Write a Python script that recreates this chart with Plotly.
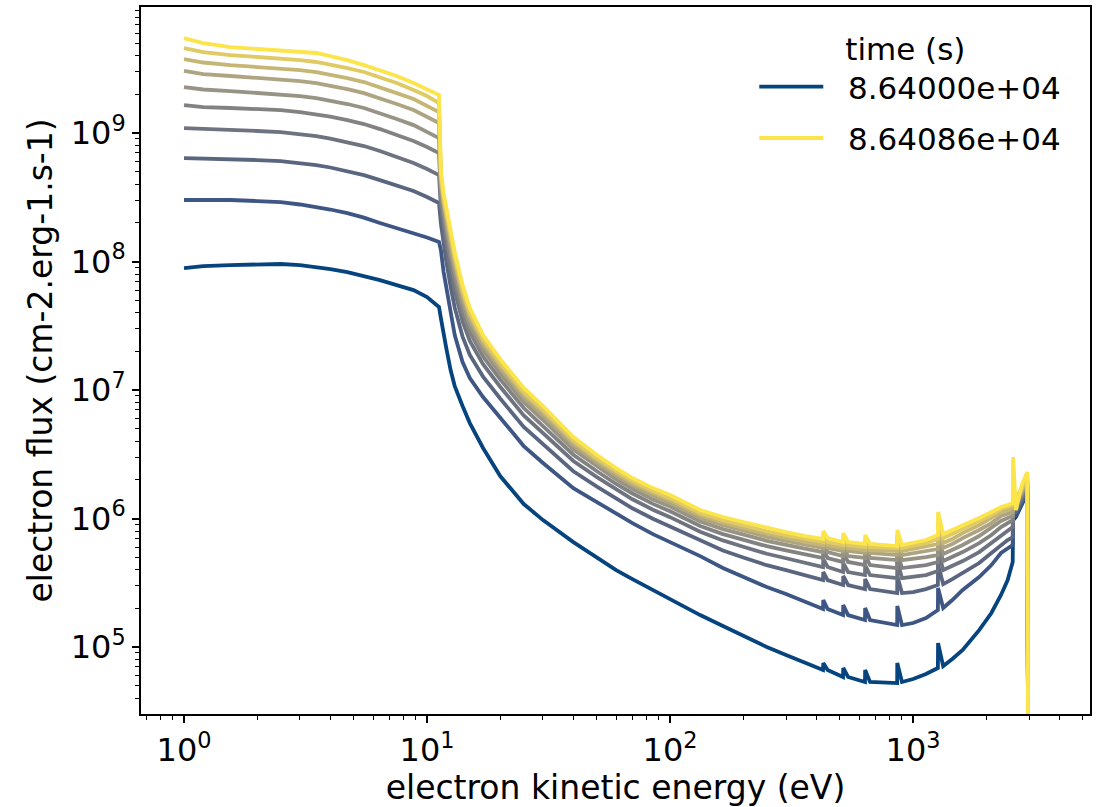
import plotly.graph_objects as go

# electron kinetic energy grid (eV)
energy_ev = [1.0, 1.2, 1.55, 2.0, 2.5, 3.0, 3.5, 4.0, 4.7, 5.5, 6.4, 7.5, 8.8, 10.0, 11.2,
             11.4, 11.7, 12, 12.5, 13, 14, 15, 17, 20, 25, 30, 40, 50, 60, 70, 85, 100, 133, 165, 200, 250, 300, 360,
             426, 427, 445, 515, 516, 540, 634, 635, 665, 860, 861, 900, 1000,
             1130, 1265, 1267, 1330, 1450, 1600, 1870, 2100, 2300, 2450, 2570, 2580, 2650, 2800, 2950, 3000]

# log10 of electron flux (cm-2.erg-1.s-1), earliest time first (t0) to latest (t9)
log_flux_t0 = [7.949, 7.965, 7.973, 7.977, 7.981, 7.973, 7.957, 7.942, 7.918, 7.887, 7.856, 7.817, 7.778, 7.724, 7.646,
               7.560, 7.428, 7.327, 7.156, 7.031, 6.876, 6.743, 6.549, 6.331, 6.113, 5.988, 5.817, 5.700, 5.599, 5.529, 5.444, 5.366, 5.249, 5.164, 5.086, 5.000, 4.938, 4.876,
               4.821, 4.876, 4.821, 4.767, 4.837, 4.767, 4.728, 4.821, 4.728, 4.720, 4.876, 4.728, 4.751,
               4.790, 4.837, 5.031, 4.852, 4.907, 4.977, 5.132, 5.265, 5.405, 5.521, 5.662, 5.988, 6.012, 6.105, 6.199, 2.0]
log_flux_t1 = [8.479, 8.479, 8.479, 8.471, 8.463, 8.444, 8.424, 8.405, 8.377, 8.342, 8.300, 8.261, 8.222, 8.187, 8.152,
               8.090, 7.918, 7.794, 7.599, 7.428, 7.218, 7.093, 6.946, 6.782, 6.564, 6.432, 6.237, 6.128, 6.035, 5.965, 5.879, 5.817, 5.708, 5.615, 5.545, 5.467, 5.413, 5.350,
               5.296, 5.366, 5.296, 5.249, 5.327, 5.249, 5.210, 5.304, 5.210, 5.171, 5.319, 5.171, 5.187,
               5.226, 5.288, 5.459, 5.304, 5.366, 5.444, 5.545, 5.638, 5.732, 5.771, 5.794, 6.012, 6.027, 6.113, 6.230, 2.0]
log_flux_t2 = [8.805, 8.802, 8.798, 8.790, 8.782, 8.767, 8.751, 8.732, 8.704, 8.673, 8.634, 8.591, 8.549, 8.502, 8.455,
               8.295, 8.121, 8.002, 7.807, 7.641, 7.416, 7.273, 7.105, 6.934, 6.713, 6.578, 6.368, 6.249, 6.153, 6.080, 5.998, 5.938, 5.827, 5.751, 5.697, 5.637, 5.599, 5.557,
               5.521, 5.584, 5.521, 5.483, 5.553, 5.483, 5.451, 5.529, 5.451, 5.420, 5.553, 5.420, 5.428,
               5.451, 5.483, 5.638, 5.490, 5.529, 5.576, 5.654, 5.732, 5.794, 5.833, 5.856, 6.035, 6.051, 6.136, 6.245, 2.0]
log_flux_t3 = [9.039, 9.031, 9.023, 9.016, 9.008, 8.992, 8.977, 8.957, 8.930, 8.899, 8.860, 8.813, 8.767, 8.720, 8.673,
               8.420, 8.244, 8.128, 7.933, 7.770, 7.535, 7.382, 7.202, 7.026, 6.803, 6.667, 6.448, 6.322, 6.225, 6.150, 6.069, 6.011, 5.898, 5.830, 5.781, 5.726, 5.691, 5.653,
               5.623, 5.685, 5.623, 5.584, 5.654, 5.584, 5.560, 5.638, 5.560, 5.537, 5.669, 5.537, 5.545,
               5.560, 5.592, 5.747, 5.599, 5.630, 5.669, 5.739, 5.809, 5.872, 5.911, 5.934, 6.058, 6.074, 6.160, 6.261, 2.0]
log_flux_t4 = [9.218, 9.202, 9.195, 9.187, 9.179, 9.163, 9.148, 9.128, 9.101, 9.070, 9.031, 8.984, 8.938, 8.891, 8.844,
               8.497, 8.321, 8.207, 8.012, 7.851, 7.610, 7.450, 7.261, 7.083, 6.860, 6.722, 6.497, 6.368, 6.269, 6.195, 6.114, 6.057, 5.942, 5.879, 5.834, 5.785, 5.753, 5.719,
               5.693, 5.755, 5.693, 5.662, 5.732, 5.662, 5.638, 5.716, 5.638, 5.615, 5.739, 5.615, 5.623,
               5.638, 5.662, 5.809, 5.669, 5.700, 5.739, 5.809, 5.872, 5.934, 5.965, 5.988, 6.082, 6.097, 6.175, 6.276, 2.0]
log_flux_t5 = [9.358, 9.339, 9.327, 9.311, 9.304, 9.288, 9.272, 9.253, 9.226, 9.195, 9.156, 9.109, 9.062, 9.012, 8.961,
               8.560, 8.382, 8.270, 8.076, 7.916, 7.670, 7.504, 7.310, 7.128, 6.905, 6.767, 6.537, 6.405, 6.305, 6.230, 6.149, 6.093, 5.978, 5.918, 5.876, 5.827, 5.796, 5.764,
               5.739, 5.794, 5.739, 5.708, 5.771, 5.708, 5.693, 5.763, 5.693, 5.677, 5.794, 5.677, 5.685,
               5.700, 5.716, 5.856, 5.724, 5.755, 5.794, 5.864, 5.926, 5.981, 6.004, 6.020, 6.097, 6.113, 6.191, 6.292, 2.0]
log_flux_t6 = [9.483, 9.459, 9.444, 9.428, 9.420, 9.405, 9.389, 9.370, 9.342, 9.311, 9.272, 9.226, 9.179, 9.128, 9.078,
               8.609, 8.432, 8.320, 8.125, 7.967, 7.718, 7.548, 7.349, 7.166, 6.941, 6.802, 6.569, 6.434, 6.334, 6.258, 6.178, 6.122, 6.007, 5.949, 5.907, 5.858, 5.827, 5.795,
               5.771, 5.825, 5.771, 5.747, 5.809, 5.747, 5.732, 5.794, 5.732, 5.716, 5.825, 5.716, 5.732,
               5.747, 5.763, 5.903, 5.771, 5.802, 5.848, 5.911, 5.965, 6.020, 6.035, 6.051, 6.113, 6.128, 6.206, 6.307, 2.0]
log_flux_t7 = [9.576, 9.549, 9.529, 9.514, 9.506, 9.490, 9.475, 9.455, 9.428, 9.397, 9.358, 9.311, 9.265, 9.214, 9.163,
               8.644, 8.465, 8.355, 8.160, 8.003, 7.751, 7.578, 7.375, 7.191, 6.966, 6.827, 6.591, 6.454, 6.353, 6.276, 6.198, 6.142, 6.027, 5.970, 5.928, 5.881, 5.850, 5.818,
               5.794, 5.848, 5.794, 5.771, 5.833, 5.771, 5.755, 5.817, 5.755, 5.747, 5.848, 5.747, 5.763,
               5.778, 5.802, 5.942, 5.809, 5.841, 5.887, 5.949, 6.004, 6.051, 6.066, 6.082, 6.128, 6.144, 6.222, 6.323, 2.0]
log_flux_t8 = [9.661, 9.630, 9.607, 9.591, 9.584, 9.568, 9.553, 9.533, 9.506, 9.475, 9.436, 9.389, 9.335, 9.288, 9.233,
               8.672, 8.493, 8.383, 8.188, 8.032, 7.778, 7.602, 7.397, 7.212, 6.986, 6.847, 6.609, 6.470, 6.370, 6.293, 6.214, 6.159, 6.043, 5.988, 5.948, 5.901, 5.871, 5.840,
               5.817, 5.872, 5.817, 5.794, 5.856, 5.794, 5.778, 5.841, 5.778, 5.771, 5.872, 5.771, 5.786,
               5.809, 5.841, 5.973, 5.848, 5.879, 5.918, 5.981, 6.027, 6.074, 6.090, 6.105, 6.144, 6.160, 6.237, 6.339, 2.0]
log_flux_t9 = [9.739, 9.700, 9.669, 9.654, 9.646, 9.630, 9.623, 9.599, 9.568, 9.529, 9.490, 9.444, 9.389, 9.342, 9.296,
               8.712, 8.533, 8.424, 8.230, 8.074, 7.817, 7.638, 7.428, 7.241, 7.016, 6.876, 6.634, 6.494, 6.393, 6.315, 6.237, 6.183, 6.066, 6.012, 5.973, 5.926, 5.895, 5.864,
               5.841, 5.903, 5.848, 5.817, 5.887, 5.817, 5.802, 5.872, 5.802, 5.786, 5.911, 5.794, 5.809,
               5.833, 5.872, 6.051, 5.879, 5.911, 5.942, 6.004, 6.051, 6.090, 6.105, 6.121, 6.479, 6.066, 6.261, 6.362, 2.0]

series = [log_flux_t0, log_flux_t1, log_flux_t2, log_flux_t3, log_flux_t4,
          log_flux_t5, log_flux_t6, log_flux_t7, log_flux_t8, log_flux_t9]
for s in series:
    assert len(s) == len(energy_ev), len(s)

line_colors = ["#06447f", "#3d5684", "#5a6680", "#6e7380", "#828283",
               "#979385", "#aea482", "#c5b676", "#dfca64", "#fbe54a"]

legend_labels = {0: "8.64000e+04", 9: "8.64086e+04"}

x_tickvals = [1, 10, 100, 1000]
x_ticktext = ["10<sup>0</sup>", "10<sup>1</sup>", "10<sup>2</sup>", "10<sup>3</sup>"]
y_tickvals = [1e5, 1e6, 1e7, 1e8, 1e9]
y_ticktext = ["10<sup>5</sup>", "10<sup>6</sup>", "10<sup>7</sup>", "10<sup>8</sup>", "10<sup>9</sup>"]

x_minor = [m * 10 ** d for d in range(-1, 4) for m in range(2, 10)]
y_minor = [m * 10 ** d for d in range(4, 10) for m in range(2, 10)]

FONT = "DejaVu Sans"
NBSP = "\u00a0"

fig = go.Figure()
for i, logs in enumerate(series):
    fig.add_trace(go.Scatter(
        x=energy_ev,
        y=[10 ** v for v in logs],
        mode="lines",
        line=dict(color=line_colors[i], width=3.8),
        name=NBSP * 2 + legend_labels.get(i, ""),
        legendgroup=f"g{i}",
        showlegend=i in legend_labels,
        hoverinfo="skip",
    ))

axis_common = dict(
    type="log",
    showgrid=False,
    zeroline=False,
    showline=True,
    mirror=True,
    linecolor="black",
    linewidth=1.8,
    ticks="outside",
    ticklen=7,
    tickwidth=1.6,
    tickcolor="black",
    tickfont=dict(family=FONT, size=32, color="black"),
)

fig.update_xaxes(
    **axis_common,
    range=[-0.177, 3.728],
    tickmode="array",
    tickvals=x_tickvals,
    ticktext=x_ticktext,
    minor=dict(tickmode="array", tickvals=x_minor, ticks="outside", ticklen=4,
               tickwidth=1.2, tickcolor="black", showgrid=False),
    title=dict(text="electron kinetic energy (eV)",
               font=dict(family=FONT, size=33, color="black"), standoff=6),
)
fig.update_yaxes(
    **axis_common,
    range=[4.479, 9.981],
    tickmode="array",
    tickvals=y_tickvals,
    ticktext=y_ticktext,
    minor=dict(tickmode="array", tickvals=y_minor, ticks="outside", ticklen=4,
               tickwidth=1.2, tickcolor="black", showgrid=False),
    title=dict(text="electron flux (cm-2.erg-1.s-1)",
               font=dict(family=FONT, size=33, color="black"), standoff=8),
)

fig.update_layout(
    width=1102,
    height=807,
    margin=dict(l=141, r=12, t=7, b=93, autoexpand=False),
    paper_bgcolor="white",
    plot_bgcolor="white",
    font=dict(family=FONT, color="black"),
    legend=dict(
        x=0.975, xanchor="right",
        y=0.982, yanchor="top",
        bgcolor="rgba(0,0,0,0)",
        font=dict(family=FONT, size=31, color="black"),
        title=dict(text="time (s)" + NBSP, side="top center",
                   font=dict(family=FONT, size=31, color="black")),
        itemwidth=64,
        traceorder="grouped",
        tracegroupgap=8,
    ),
)

fig.write_html("out.html")
